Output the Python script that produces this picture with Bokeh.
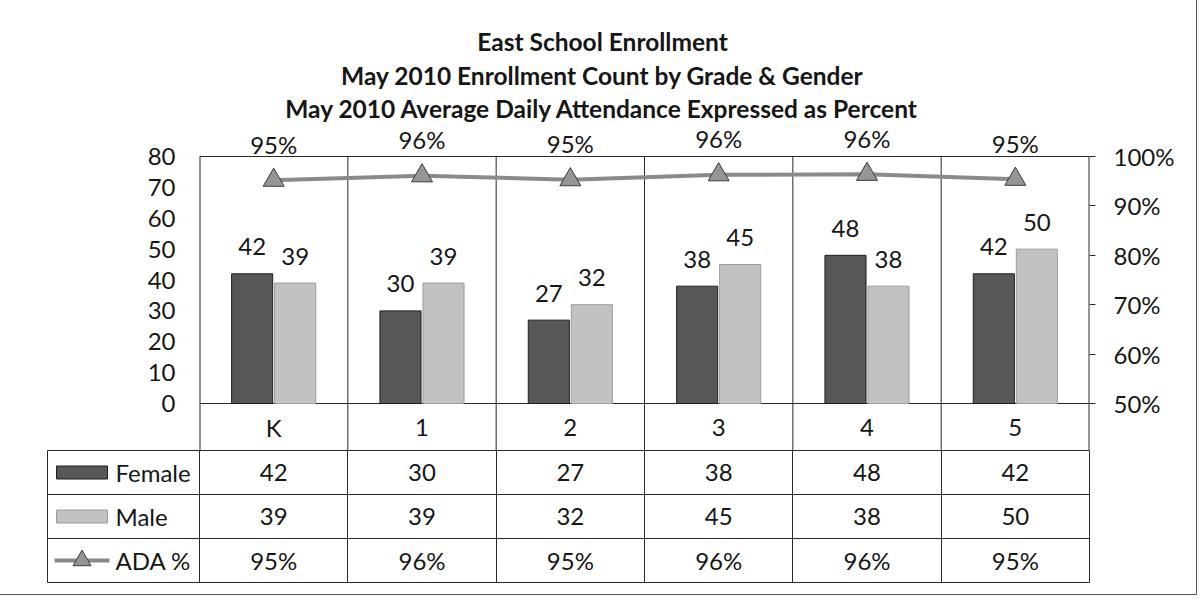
from bokeh.plotting import figure
from bokeh.layouts import column
from bokeh.models import (Range1d, LinearAxis, FixedTicker, PrintfTickFormatter,
                          ColumnDataSource, LabelSet, Grid)
from bokeh.transform import dodge
from bokeh.core.properties import value
from bokeh.embed import file_html
from bokeh.resources import INLINE

# ---------------- data ----------------
grades = ["K", "1", "2", "3", "4", "5"]
female = [42, 30, 27, 38, 48, 42]
male = [39, 39, 32, 45, 38, 50]
ada_pct = [95.2, 96.1, 95.3, 96.3, 96.4, 95.4]
count_ticks = [0, 10, 20, 30, 40, 50, 60, 70, 80]
pct_ticks = [50, 60, 70, 80, 90, 100]
series = ["Female", "Male", "ADA %"]
title_lines = [
    "East School Enrollment",
    "May 2010 Enrollment Count by Grade & Gender",
    "May 2010 Average Daily Attendance Expressed as Percent",
]

# ---------------- style ----------------
FONT = "Lato"
FS = "24px"
TFS = "24.5px"
TXT = "#161616"
LINE = "#2a2a2a"
F_FILL, F_LINE = "#575757", "#1e1e1e"
M_FILL, M_LINE = "#c2c2c2", "#9c9c9c"
ADA_LINE, ADA_FILL, ADA_EDGE = "#8a8a8a", "#959595", "#3c3c3c"

# ---------------- layout (screen pixels) ----------------
W = 1185
TOP_H, BOT_H = 450, 133
OX, OY = 1, 0                    # observed page origin of the layout
frame_left, frame_right = 200, 1090
frame_top = OY
plot_top = 156
frame_bottom = OY + TOP_H
zero_page = 403
tab_left = 48
MB_LEFT_TOP = frame_left - OX
MB_RIGHT = OX + W - frame_right
MB_LEFT_TAB = tab_left - OX
MB_BOTTOM_TAB = 1

n = len(grades)
xunit = (frame_right - frame_left) / n
yunit = (zero_page - plot_top) / count_ticks[-1]
y_start = -(frame_bottom - zero_page) / yunit
y_end = (zero_page - frame_top) / yunit
pct_per_unit = (pct_ticks[-1] - pct_ticks[0]) / count_ticks[-1]
pct_start = pct_ticks[0] + y_start * pct_per_unit
pct_end = pct_ticks[0] + y_end * pct_per_unit

BAR_OFF, BAR_W = 0.145, 0.277

src = ColumnDataSource(dict(
    xc=[i + 0.5 for i in range(n)],
    grade=grades, female=female, male=male, ada=ada_pct,
    female_txt=[str(v) for v in female],
    male_txt=[str(v) for v in male],
    ada_txt=[f"{round(v):d}%" for v in ada_pct],
))

# ---------------- chart ----------------
pA = figure(width=W, height=TOP_H, x_range=Range1d(0, n), y_range=Range1d(y_start, y_end),
            x_axis_location=None, y_axis_location="left", toolbar_location=None,
            output_backend="svg", title=None, frame_align=False,
            min_border_left=MB_LEFT_TOP, min_border_right=MB_RIGHT,
            min_border_top=0, min_border_bottom=0,
            outline_line_color=None, background_fill_color="white", border_fill_color="white")
pA.grid.visible = False

# plot-area borders and category separators
bounds = list(range(0, n + 1))
pA.segment(x0=bounds, y0=[y_start] * len(bounds), x1=bounds, y1=[count_ticks[-1]] * len(bounds),
           line_color=LINE, line_width=[2 if b in (0, n) else 1 for b in bounds])
pA.segment(x0=[0, 0], y0=[count_ticks[-1], 0], x1=[n, n], y1=[count_ticks[-1], 0],
           line_color=LINE, line_width=1)

ya = pA.yaxis[0]
ya.ticker = FixedTicker(ticks=count_ticks)
ya.axis_line_color = None
ya.major_tick_line_color = None
ya.minor_tick_line_color = None
ya.major_tick_out = 0
ya.major_tick_in = 0
ya.major_label_standoff = 24
ya.major_label_text_font = FONT
ya.major_label_text_font_size = FS
ya.major_label_text_color = TXT

pA.extra_y_ranges = {"pct": Range1d(pct_start, pct_end)}
ra = LinearAxis(y_range_name="pct", ticker=FixedTicker(ticks=pct_ticks),
                formatter=PrintfTickFormatter(format="%d%%"),
                axis_line_color=None, major_tick_in=0, major_tick_out=6,
                major_tick_line_color=LINE, minor_tick_line_color=None,
                major_label_standoff=18, major_label_text_font=FONT,
                major_label_text_font_size=FS, major_label_text_color=TXT)
pA.add_layout(ra, "right")

pA.vbar(x=dodge("xc", -BAR_OFF), top="female", bottom=0, width=BAR_W, source=src,
        fill_color=F_FILL, line_color=F_LINE)
pA.vbar(x=dodge("xc", BAR_OFF), top="male", bottom=0, width=BAR_W, source=src,
        fill_color=M_FILL, line_color=M_LINE)

lab_kw = dict(source=src, text_align="center", text_baseline="middle",
              text_font=value(FONT), text_font_size=value(FS), text_color=TXT)
pA.add_layout(LabelSet(x=dodge("xc", -BAR_OFF), y="female", text="female_txt", y_offset=27, **lab_kw))
pA.add_layout(LabelSet(x=dodge("xc", BAR_OFF), y="male", text="male_txt", y_offset=27, **lab_kw))

pA.line("xc", "ada", source=src, y_range_name="pct", line_color=ADA_LINE, line_width=4)
pA.scatter("xc", "ada", source=src, y_range_name="pct", marker="triangle", size=21,
           fill_color=ADA_FILL, line_color=ADA_EDGE)
pA.add_layout(LabelSet(x="xc", y="ada", y_range_name="pct", text="ada_txt", y_offset=36, **lab_kw))

cat_y = -(frame_bottom - zero_page) / 2 / yunit
pA.text(x="xc", y=cat_y, text="grade", source=src, text_align="center", text_baseline="middle",
        text_font=value(FONT), text_font_size=value(FS), text_color=TXT)

TITLE_CX, TITLE_Y0, TITLE_DY = 603, 41, 33.5
pA.text(x=[(TITLE_CX - frame_left) / xunit] * len(title_lines),
        y=[(zero_page - (TITLE_Y0 + k * TITLE_DY)) / yunit for k in range(len(title_lines))],
        text=title_lines, text_align="center", text_baseline="middle",
        text_font=value(FONT), text_font_style="bold", text_font_size=value(TFS), text_color=TXT)

# ---------------- data table ----------------
nrows = len(series)
pB = figure(width=W, height=BOT_H, x_range=Range1d(-(frame_left - tab_left) / xunit, n),
            y_range=Range1d(0, nrows), x_axis_location=None, y_axis_location=None,
            toolbar_location=None, output_backend="svg", title=None, frame_align=False,
            min_border_left=MB_LEFT_TAB, min_border_right=MB_RIGHT,
            min_border_top=0, min_border_bottom=MB_BOTTOM_TAB,
            outline_line_color=LINE, background_fill_color="white", border_fill_color="white")
pB.grid.visible = False
pB.add_layout(Grid(dimension=0, ticker=FixedTicker(ticks=list(range(0, n))), grid_line_color=LINE))
pB.add_layout(Grid(dimension=1, ticker=FixedTicker(ticks=list(range(1, nrows))), grid_line_color=LINE))

row_y = [nrows - k - 0.5 for k in range(nrows)]
tab_kw = dict(source=src, text_align="center", text_baseline="middle",
              text_font=value(FONT), text_font_size=value(FS), text_color=TXT)
pB.text(x="xc", y=row_y[0], text="female_txt", **tab_kw)
pB.text(x="xc", y=row_y[1], text="male_txt", **tab_kw)
pB.text(x="xc", y=row_y[2], text="ada_txt", **tab_kw)

sw_x = (82.5 - frame_left) / xunit
pB.rect(x=[sw_x, sw_x], y=row_y[:2], width=51, height=13, width_units="screen", height_units="screen",
        fill_color=[F_FILL, M_FILL], line_color=[F_LINE, M_LINE])
pB.segment(x0=[(55 - frame_left) / xunit], y0=[row_y[2]], x1=[(110 - frame_left) / xunit], y1=[row_y[2]],
           line_color=ADA_LINE, line_width=4)
pB.scatter(x=[sw_x], y=[row_y[2]], marker="triangle", size=18, fill_color=ADA_FILL, line_color=ADA_EDGE)
pB.text(x=[(116 - frame_left) / xunit] * nrows, y=row_y, text=series, text_align="left",
        text_baseline="middle", text_font=value(FONT), text_font_size=value(FS), text_color=TXT)

layout = column(pA, pB, styles={"outline": "1px solid #555555", "outline-offset": "11px"})

with open("out.html", "w") as f:
    f.write(file_html(layout, INLINE))
